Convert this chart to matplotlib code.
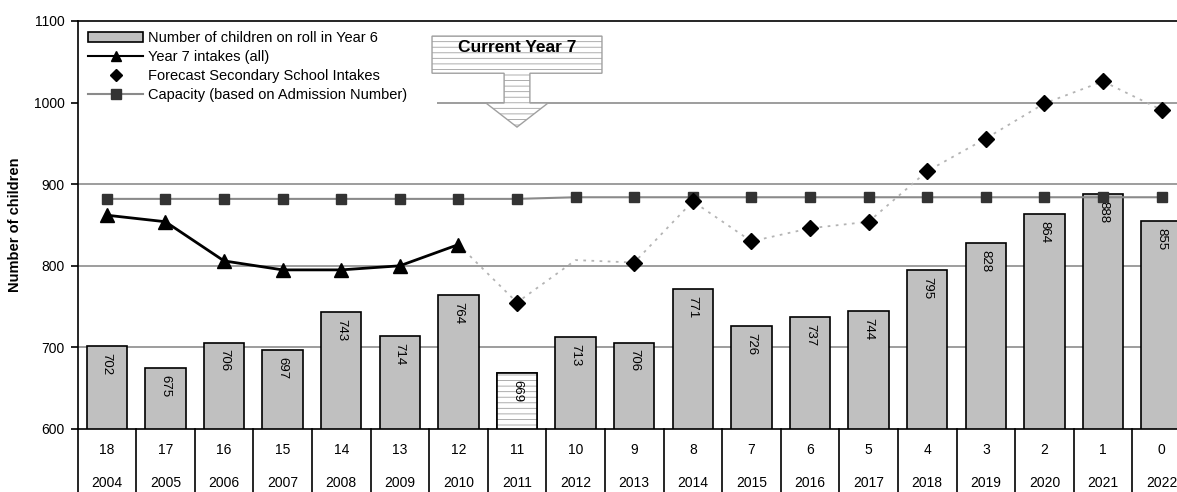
import matplotlib
matplotlib.use("Agg")
import matplotlib.pyplot as plt
from matplotlib.patches import Polygon, Patch
from matplotlib.lines import Line2D
import numpy as np

plt.rcParams["font.family"] = ["Liberation Sans", "DejaVu Sans"]
plt.rcParams["hatch.linewidth"] = 0.6

years_to_go = ["18", "17", "16", "15", "14", "13", "12", "11", "10", "9",
               "8", "7", "6", "5", "4", "3", "2", "1", "0"]
years = ["2004", "2005", "2006", "2007", "2008", "2009", "2010", "2011", "2012", "2013",
         "2014", "2015", "2016", "2017", "2018", "2019", "2020", "2021", "2022"]
roll_year6 = [702, 675, 706, 697, 743, 714, 764, 669, 713, 706,
              771, 726, 737, 744, 795, 828, 864, 888, 855]
year7_intakes = [862, 854, 806, 795, 795, 800, 826]          # 2004-2010
forecast_years = ["2010", "2011", "2012", "2013", "2014", "2015", "2016",
                  "2017", "2018", "2019", "2020", "2021", "2022"]
forecast_line = [826, 755, 807, 804, 879, 830, 846, 854, 916, 956, 999, 1026, 991]
forecast_marked = [False, True, False, True, True, True, True, True, True, True, True, True, True]
capacity = [882, 882, 882, 882, 882, 882, 882, 882, 884, 884,
            884, 884, 884, 884, 884, 884, 884, 884, 884]
current_year = "2011"

x = np.arange(len(years))
fx = np.array([years.index(y) for y in forecast_years])
fv = np.array(forecast_line, dtype=float)
fm = np.array(forecast_marked)

fig = plt.figure(figsize=(11.77, 4.92), dpi=100)
ax = fig.add_axes([77.5 / 1177, 63 / 492, 1113.4 / 1177, 408 / 492])

# gridlines
for g in [700, 800, 900]:
    ax.axhline(g, color="#8c8c8c", lw=1.2, zorder=1)
ax.hlines(1000, 5.63, 18.5, color="#8c8c8c", lw=1.2, zorder=1)

# bars
cur = years.index(current_year)
colors = ["#c0c0c0"] * len(years)
colors[cur] = "white"
ax.bar(x, roll_year6, width=0.69, bottom=0, color=colors, edgecolor="black", lw=1.2, zorder=2)
ax.bar(x[cur], roll_year6[cur], width=0.69, color="white", edgecolor="#a0a0a0",
       hatch="---", lw=0, zorder=2.1)
ax.bar(x[cur], roll_year6[cur], width=0.69, fill=False, edgecolor="black", lw=1.2, zorder=2.2)
for xi, v in zip(x, roll_year6):
    ax.annotate(str(v), (xi, v), xytext=(0, -5), textcoords="offset points",
                rotation=270, ha="center", va="top", fontsize=9.5, zorder=3)

# capacity
ax.plot(x, capacity, color="#8a8a8a", lw=1.5, marker="s", ms=6.5,
        mfc="#333333", mec="#333333", zorder=4)

# forecast
ax.plot(fx, fv, color="#b4b4b4", lw=1.3, ls=(0, (1.5, 3)), zorder=4)
ax.plot(fx[fm], fv[fm], ls="none", marker="D", ms=8.5, color="black", zorder=5)

# year 7 intakes
ax.plot(x[:len(year7_intakes)], year7_intakes, color="black", lw=2, marker="^", ms=9.5, zorder=5)

# current year 7 arrow
cx = x[cur]
arrow = Polygon([[cx - 1.45, 1081.5], [cx + 1.45, 1081.5], [cx + 1.45, 1036],
                 [cx + 0.22, 1036], [cx + 0.22, 999.5], [cx + 0.53, 999.5],
                 [cx, 970], [cx - 0.53, 999.5], [cx - 0.22, 999.5],
                 [cx - 0.22, 1036], [cx - 1.45, 1036]],
                closed=True, facecolor="white", edgecolor="#a0a0a0", hatch="---",
                lw=1.0, zorder=6)
ax.add_patch(arrow)
ax.text(cx, 1068, "Current Year 7", ha="center", va="center", fontsize=12.5,
        fontweight="bold", zorder=7)

ax.set_xlim(-0.5, len(years) - 0.5)
ax.set_ylim(600, 1100)
ax.set_yticks([600, 700, 800, 900, 1000, 1100])
ax.tick_params(axis="y", labelsize=10, length=5, width=1.2, direction="out", pad=4)
ax.set_xticks([])
for s in ["left", "top", "bottom"]:
    ax.spines[s].set_linewidth(1.2)
ax.spines["right"].set_visible(False)
ax.set_ylabel("Number of children", fontsize=10.5, fontweight="bold", labelpad=9)

# category table below the axis
trans = ax.get_xaxis_transform()
for b in np.arange(-0.5, len(years), 1.0):
    ax.plot([b, b], [0, -0.2], color="black", lw=1.2, transform=trans, clip_on=False)
for xi, a, yr in zip(x, years_to_go, years):
    ax.text(xi, -0.051, a, ha="center", va="center", fontsize=10, transform=trans)
    ax.text(xi, -0.132, yr, ha="center", va="center", fontsize=10, transform=trans)

handles = [
    Patch(facecolor="#c0c0c0", edgecolor="black", lw=1.2),
    Line2D([], [], color="black", lw=1.5, marker="^", ms=7.5),
    Line2D([], [], ls="none", color="black", marker="D", ms=6.5),
    Line2D([], [], color="#8a8a8a", lw=1.5, marker="s", ms=7, mfc="#333333", mec="#333333"),
]
labels = ["Number of children on roll in Year 6", "Year 7 intakes (all)",
          "Forecast Secondary School Intakes", "Capacity (based on Admission Number)"]
leg = ax.legend(handles, labels, loc="upper left", bbox_to_anchor=(0.006, 0.985),
                fontsize=10.5, handlelength=3.8, handletextpad=0.3, labelspacing=0.35,
                borderpad=0.25, frameon=True, facecolor="white", edgecolor="none",
                framealpha=1, borderaxespad=0)
leg.set_zorder(8)

fig.savefig("out.png", dpi=100)
